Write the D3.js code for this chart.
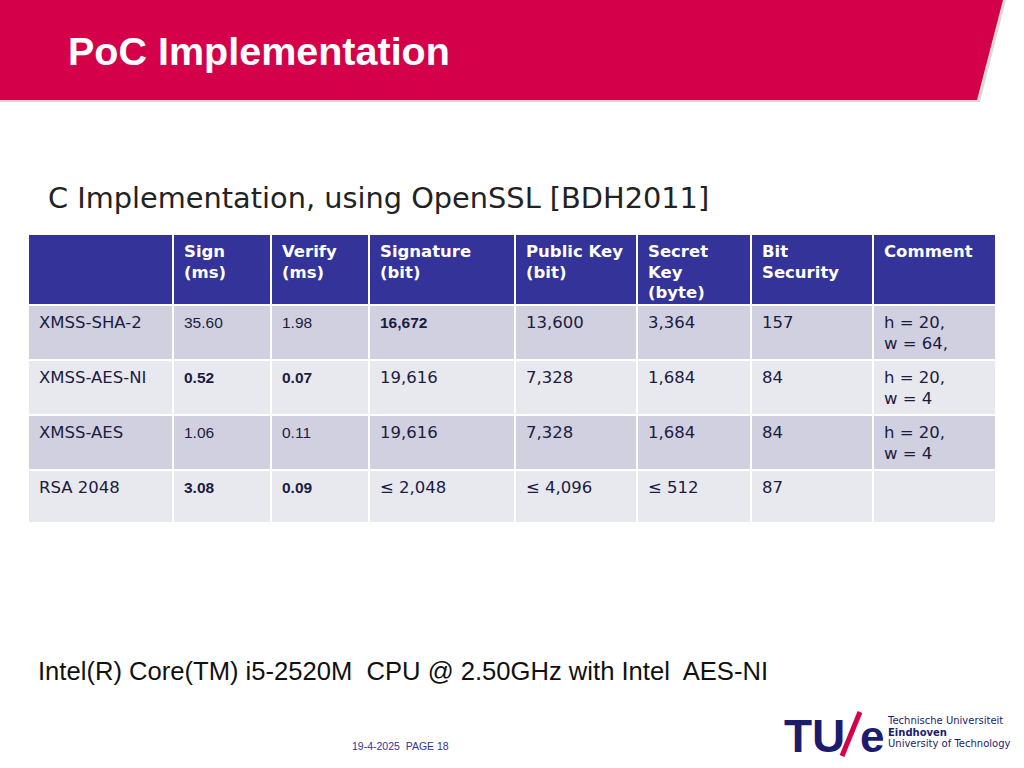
<!DOCTYPE html>
<html><head><meta charset="utf-8">
<script src="https://d3js.org/d3.v7.min.js"></script>
<style>body{margin:0;background:#fff}svg{display:block}</style>
</head><body>
<svg id="c" width="1024" height="768"></svg>
<script>
const headers = [[""],["Sign","(ms)"],["Verify","(ms)"],["Signature","(bit)"],["Public Key","(bit)"],["Secret","Key","(byte)"],["Bit","Security"],["Comment"]];
const rowNames = ["XMSS-SHA-2","XMSS-AES-NI","XMSS-AES","RSA 2048"];
const signMs = ["35.60","0.52","1.06","3.08"];
const verifyMs = ["1.98","0.07","0.11","0.09"];
const sigBits = ["16,672","19,616","19,616","≤ 2,048"];
const pubKeyBits = ["13,600","7,328","7,328","≤ 4,096"];
const secKeyBytes = ["3,364","1,684","1,684","≤ 512"];
const bitSecurity = ["157","84","84","87"];
const comments = [["h = 20,","w = 64,"],["h = 20,","w = 4"],["h = 20,","w = 4"],[""]];
const boldCells = [[3,0],[1,1],[2,1],[1,3],[2,3]];
const smallArialCols = [1,2];
const ARIAL = "'Liberation Sans', Arial, sans-serif";

const svg = d3.select("#c");
svg.append("polygon").attr("points","0,0 1006,0 980,102 0,102").attr("fill","#d8d8d8");
svg.append("polygon").attr("points","0,0 1003,0 977,100 0,100").attr("fill","#d5004a");
svg.append("text").attr("x",68).attr("y",65).text("PoC Implementation")
  .attr("font-family",ARIAL).attr("font-weight","bold").attr("font-size",39.5).attr("fill","#fff");
svg.append("text").attr("x",48).attr("y",208).text("C Implementation, using OpenSSL [BDH2011]")
  .attr("font-family","DejaVu Sans").attr("font-size",28.8).attr("fill","#222");

const colEdges = [29,174,272,370,516,638,752,874,995];
const x = d3.scaleOrdinal().domain(d3.range(8)).range(colEdges.slice(0,8));
const rowEdges = [235,306,361,416,471,524];
const y = d3.scaleOrdinal().domain(d3.range(5)).range(rowEdges.slice(0,5));
const g = svg.append("g");
const rows = rowNames.map((n,i)=>[[n],[signMs[i]],[verifyMs[i]],[sigBits[i]],[pubKeyBits[i]],[secKeyBytes[i]],[bitSecurity[i]],comments[i]]);
headers.forEach((h,c)=>{
  const x0=x(c), w=colEdges[c+1]-x0-(c<7?2:0);
  g.append("rect").attr("x",x0).attr("y",y(0)).attr("width",w).attr("height",rowEdges[1]-rowEdges[0]-2).attr("fill","#333399");
  h.forEach((t,k)=>g.append("text").attr("x",x0+10).attr("y",y(0)+22+k*20.5).text(t)
    .attr("font-family","DejaVu Sans").attr("font-weight","bold").attr("font-size",16.5).attr("fill","#fff"));
});
rows.forEach((r,ri)=>{
  r.forEach((cell,c)=>{
    const x0=x(c), w=colEdges[c+1]-x0-(c<7?2:0);
    const y0=y(ri+1), h=rowEdges[ri+2]-y0-2;
    g.append("rect").attr("x",x0).attr("y",y0).attr("width",w).attr("height",h).attr("fill",ri%2===0?"#d0d0e1":"#e8e8ef");
    const bold = boldCells.some(b=>b[0]===c&&b[1]===ri);
    const arial = smallArialCols.includes(c) || bold;
    cell.forEach((t,k)=>g.append("text").attr("x",x0+10).attr("y",y0+22+k*20.5).text(t)
      .attr("font-family",arial?ARIAL:"DejaVu Sans")
      .attr("font-weight",bold?"bold":"normal").attr("font-size",arial?15.5:16.5).attr("fill","#1c1c40"));
  });
});
svg.append("text").attr("x",38).attr("y",680).text("Intel(R) Core(TM) i5-2520M  CPU @ 2.50GHz with Intel  AES-NI")
  .attr("font-family",ARIAL).attr("font-size",25.6).attr("fill","#111").attr("xml:space","preserve");
svg.append("text").attr("x",352).attr("y",750).text("19-4-2025  PAGE 18")
  .attr("font-family",ARIAL).attr("font-size",10.5).attr("fill","#333399").attr("xml:space","preserve");
const L=svg.append("g");
L.append("text").attr("x",784).attr("y",752).text("TU").attr("font-family",ARIAL).attr("font-weight","bold").attr("font-size",46).attr("fill","#1c1c6e");
L.append("line").attr("x1",860).attr("y1",712).attr("x2",842).attr("y2",756).attr("stroke","#d5004a").attr("stroke-width",5);
L.append("text").attr("x",860).attr("y",752).text("e").attr("font-family",ARIAL).attr("font-weight","bold").attr("font-size",44).attr("fill","#1c1c6e");
[["Technische Universiteit","normal"],["Eindhoven","bold"],["University of Technology","normal"]].forEach((d,i)=>
  L.append("text").attr("x",888).attr("y",724+i*11.5).text(d[0]).attr("font-family","DejaVu Sans").attr("font-weight",d[1]).attr("font-size",10).attr("fill","#1c1c6e"));
</script>
</body></html>
